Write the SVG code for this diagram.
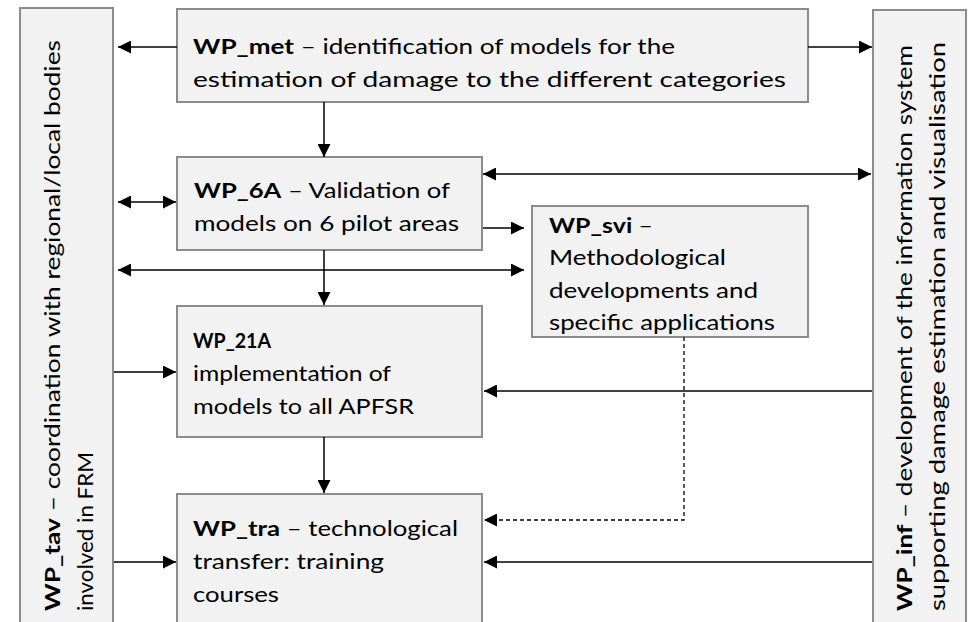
<svg xmlns="http://www.w3.org/2000/svg" width="971" height="622" viewBox="0 0 971 622">
<style>
.box{fill:#f2f2f2;stroke:#8c8c8c;stroke-width:2}
.t{font-family:Lato,"Open Sans","Liberation Sans",sans-serif;font-size:20.5px;fill:#000}
.b{font-weight:bold}
.c{fill:none;stroke:#000;stroke-width:1.5}
.d{fill:none;stroke:#000;stroke-width:1.3;stroke-dasharray:4,3}
</style>
<defs>
<marker id="ah" markerUnits="userSpaceOnUse" markerWidth="13" markerHeight="13" refX="13" refY="6.5" orient="auto">
<path d="M0,0 L13,6.5 L0,13 z" fill="#000"/>
</marker>
<marker id="as" markerUnits="userSpaceOnUse" markerWidth="13" markerHeight="13" refX="0" refY="6.5" orient="auto">
<path d="M13,0 L0,6.5 L13,13 z" fill="#000"/>
</marker>
</defs>
<g id="WP_tav">
<rect class="box" x="20" y="8" width="93" height="640"/>
<text class="t" transform="translate(60,611) rotate(-90)" textLength="571" lengthAdjust="spacingAndGlyphs"><tspan class="b">WP_tav</tspan> – coordination with regional/local bodies</text>
<text class="t" transform="translate(93,611) rotate(-90)" textLength="159" lengthAdjust="spacingAndGlyphs">involved in FRM</text>
</g>
<g id="WP_inf">
<rect class="box" x="873" y="10" width="93" height="640"/>
<text class="t" transform="translate(912,611) rotate(-90)" textLength="566" lengthAdjust="spacingAndGlyphs"><tspan class="b">WP_inf</tspan> – development of the information system</text>
<text class="t" transform="translate(945,611) rotate(-90)" textLength="569" lengthAdjust="spacingAndGlyphs">supporting damage estimation and visualisation</text>
</g>
<g id="WP_met">
<rect class="box" x="177" y="9" width="631" height="93"/>
<text class="t" x="193" y="54" textLength="482" lengthAdjust="spacingAndGlyphs"><tspan class="b">WP_met</tspan> – identification of models for the</text>
<text class="t" x="193" y="87" textLength="593" lengthAdjust="spacingAndGlyphs">estimation of damage to the different categories</text>
</g>
<g id="WP_6A">
<rect class="box" x="177" y="157" width="305" height="93"/>
<text class="t" x="194" y="198" textLength="256" lengthAdjust="spacingAndGlyphs"><tspan class="b">WP_6A</tspan> – Validation of</text>
<text class="t" x="194" y="231" textLength="265" lengthAdjust="spacingAndGlyphs">models on 6 pilot areas</text>
</g>
<g id="WP_svi">
<rect class="box" x="532" y="206" width="276" height="131"/>
<text class="t" x="549" y="233" textLength="104" lengthAdjust="spacingAndGlyphs"><tspan class="b">WP_svi</tspan> –</text>
<text class="t" x="549" y="265" textLength="177" lengthAdjust="spacingAndGlyphs">Methodological</text>
<text class="t" x="549" y="298" textLength="209" lengthAdjust="spacingAndGlyphs">developments and</text>
<text class="t" x="549" y="330" textLength="226" lengthAdjust="spacingAndGlyphs">specific applications</text>
</g>
<g id="WP_21A">
<rect class="box" x="177" y="306" width="305" height="131"/>
<text class="t b" x="193" y="348" textLength="78" lengthAdjust="spacingAndGlyphs">WP_21A</text>
<text class="t" x="193" y="381" textLength="198" lengthAdjust="spacingAndGlyphs">implementation of</text>
<text class="t" x="193" y="414" textLength="221" lengthAdjust="spacingAndGlyphs">models to all APFSR</text>
</g>
<g id="WP_tra">
<rect class="box" x="177" y="494" width="305" height="150"/>
<text class="t" x="193" y="536" textLength="265" lengthAdjust="spacingAndGlyphs"><tspan class="b">WP_tra</tspan> – technological</text>
<text class="t" x="193" y="569" textLength="191" lengthAdjust="spacingAndGlyphs">transfer: training</text>
<text class="t" x="193" y="602" textLength="86" lengthAdjust="spacingAndGlyphs">courses</text>
</g>
<g id="connectors">
<line class="c" x1="177" y1="47" x2="118" y2="47" marker-end="url(#ah)"/>
<line class="c" x1="808" y1="47" x2="872" y2="47" marker-end="url(#ah)"/>
<line class="c" x1="324" y1="102" x2="324" y2="157" marker-end="url(#ah)"/>
<line class="c" x1="118" y1="202" x2="176" y2="202" marker-start="url(#as)" marker-end="url(#ah)"/>
<line class="c" x1="483" y1="174" x2="871" y2="174" marker-start="url(#as)" marker-end="url(#ah)"/>
<line class="c" x1="483" y1="228" x2="524" y2="228" marker-end="url(#ah)"/>
<line class="c" x1="118" y1="270" x2="524" y2="270" marker-start="url(#as)" marker-end="url(#ah)"/>
<line class="c" x1="324" y1="250" x2="324" y2="305" marker-end="url(#ah)"/>
<line class="c" x1="114" y1="372" x2="176" y2="372" marker-end="url(#ah)"/>
<line class="c" x1="872" y1="391" x2="484" y2="391" marker-end="url(#ah)"/>
<line class="c" x1="324" y1="437" x2="324" y2="493" marker-end="url(#ah)"/>
<polyline class="d" points="684,337 684,520 484,520" marker-end="url(#ah)"/>
<line class="c" x1="114" y1="562" x2="176" y2="562" marker-end="url(#ah)"/>
<line class="c" x1="872" y1="562" x2="484" y2="562" marker-end="url(#ah)"/>
</g>
</svg>
